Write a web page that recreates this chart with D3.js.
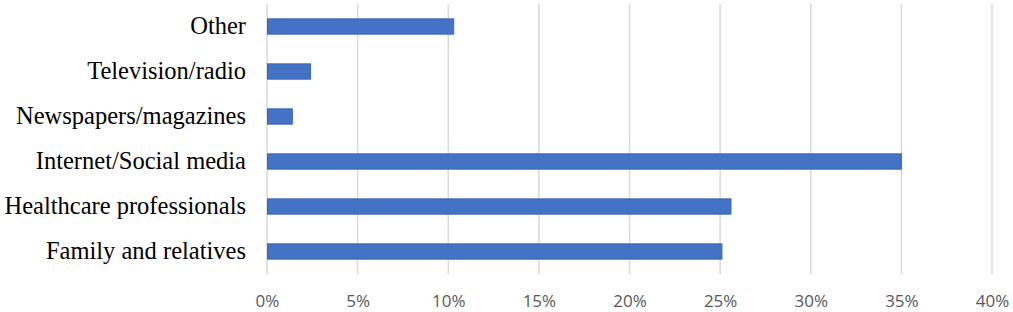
<!DOCTYPE html>
<html>
<head>
<meta charset="utf-8">
<script src="https://cdn.jsdelivr.net/npm/d3@7"></script>
<style>
  body { margin: 0; background: #fff; }
  svg { display: block; }
</style>
</head>
<body>
<div id="chart"></div>
<script>
// data, top to bottom as drawn
const categories = ["Other", "Television/radio", "Newspapers/magazines",
  "Internet/Social media", "Healthcare professionals", "Family and relatives"];
const shares = [10.3, 2.4, 1.4, 35.0, 25.6, 25.1];
const tickValues = [0, 5, 10, 15, 20, 25, 30, 35, 40];

const width = 1013, height = 312;
const margin = { top: 4, right: 21, bottom: 38, left: 267 };

const svg = d3.select("#chart")
  .append("svg")
  .attr("width", width)
  .attr("height", height);

const x = d3.scaleLinear()
  .domain([0, 40])
  .range([margin.left, width - margin.right]);

const y = d3.scaleBand()
  .domain(categories)
  .range([margin.top, height - margin.bottom])
  .paddingInner(0.66)
  .paddingOuter(0.33);

// vertical gridlines
svg.append("g")
  .selectAll("line")
  .data(tickValues)
  .enter()
  .append("line")
  .attr("x1", d => x(d))
  .attr("x2", d => x(d))
  .attr("y1", margin.top)
  .attr("y2", height - margin.bottom)
  .attr("stroke", "#d9d9d9")
  .attr("stroke-width", 1.5);

// bars
svg.append("g")
  .selectAll("rect")
  .data(categories)
  .enter()
  .append("rect")
  .attr("x", x(0) + 0.5)
  .attr("y", d => y(d))
  .attr("width", (d, i) => x(shares[i]) - x(0) - 0.5)
  .attr("height", y.bandwidth())
  .attr("fill", "#4472c4")
  .attr("stroke", "#3c66b4")
  .attr("stroke-width", 1);

// category labels
const yAxis = svg.append("g")
  .attr("transform", `translate(${margin.left - 21},0)`)
  .call(d3.axisLeft(y).tickSize(0).tickPadding(0));
yAxis.select(".domain").remove();
yAxis.selectAll("text")
  .style("font-family", "'Liberation Serif', 'Times New Roman', serif")
  .style("font-size", "24.5px")
  .attr("fill", "#000");

// x axis tick labels
const xAxis = svg.append("g")
  .attr("transform", `translate(0,${height - 11})`)
  .call(d3.axisBottom(x).tickValues(tickValues).tickFormat(d => d + "%").tickSize(0).tickPadding(0));
xAxis.select(".domain").remove();
xAxis.selectAll("text")
  .attr("dy", "0.35em")
  .style("font-family", "'Open Sans', 'Liberation Sans', sans-serif")
  .style("font-size", "17px")
  .attr("fill", "#595959");
</script>
</body>
</html>
